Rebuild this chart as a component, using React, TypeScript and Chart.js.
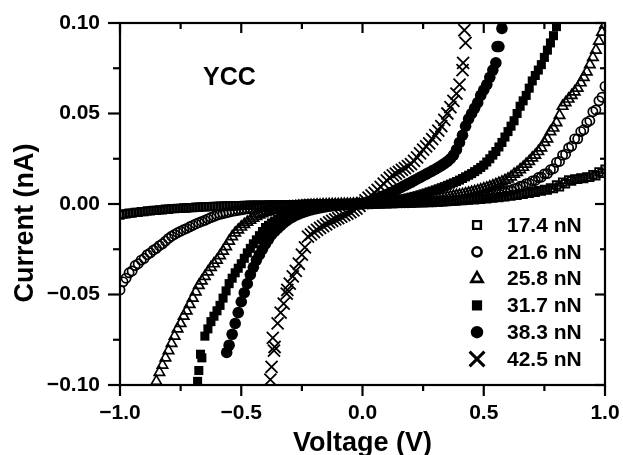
import { useEffect, useRef } from "react";
import { Chart, registerables } from "chart.js";
import { drawPoint } from "chart.js/helpers";

Chart.register(...registerables);

// Forward-sweep voltage grid (V)
const voltage = [
  -1.0, -0.975, -0.95, -0.925, -0.9, -0.875, -0.85, -0.825, -0.8, -0.775,
  -0.75, -0.725, -0.7, -0.675, -0.65, -0.625, -0.6, -0.575, -0.55, -0.525,
  -0.5, -0.475, -0.45, -0.425, -0.4, -0.375, -0.35, -0.325, -0.3, -0.275,
  -0.25, -0.225, -0.2, -0.175, -0.15, -0.125, -0.1, -0.075, -0.05, -0.025,
  0, 0.025, 0.05, 0.075, 0.1, 0.125, 0.15, 0.175, 0.2, 0.225,
  0.25, 0.275, 0.3, 0.325, 0.35, 0.375, 0.4, 0.425, 0.45, 0.475,
  0.5, 0.525, 0.55, 0.575, 0.6, 0.625, 0.65, 0.675, 0.7, 0.725,
  0.75, 0.775, 0.8, 0.825, 0.85, 0.875, 0.9, 0.925, 0.95, 0.975, 1.0,
];
// Return-sweep voltage grid (V)
const voltageBack = [
  -0.9875, -0.9625, -0.9375, -0.9125, -0.8875, -0.8625, -0.8375, -0.8125, -0.7875, -0.7625,
  -0.7375, -0.7125, -0.6875, -0.6625, -0.6375, -0.6125, -0.5875, -0.5625, -0.5375, -0.5125,
  -0.4875, -0.4625, -0.4375, -0.4125, -0.3875, -0.3625, -0.3375, -0.3125, -0.2875, -0.2625,
  -0.2375, -0.2125, -0.1875, -0.1625, -0.1375, -0.1125, -0.0875, -0.0625, -0.0375, -0.0125,
  0.0125, 0.0375, 0.0625, 0.0875, 0.1125, 0.1375, 0.1625, 0.1875, 0.2125, 0.2375,
  0.2625, 0.2875, 0.3125, 0.3375, 0.3625, 0.3875, 0.4125, 0.4375, 0.4625, 0.4875,
  0.5125, 0.5375, 0.5625, 0.5875, 0.6125, 0.6375, 0.6625, 0.6875, 0.7125, 0.7375,
  0.7625, 0.7875, 0.8125, 0.8375, 0.8625, 0.8875, 0.9125, 0.9375, 0.9625, 0.9875,
];

// Current (nA), forward sweep
const i174 = [
  -0.0062, -0.0055, -0.005, -0.0046, -0.0042, -0.0038, -0.0035, -0.0032, -0.0029, -0.0026,
  -0.0024, -0.0022, -0.002, -0.0018, -0.0016, -0.0015, -0.0013, -0.0012, -0.0011, -0.001,
  -0.0009, -0.0008, -0.0007, -0.0007, -0.0006, -0.0005, -0.0005, -0.0004, -0.0004, -0.0003,
  -0.0003, -0.0002, -0.0002, -0.0002, -0.0001, -0.0001, -0.0001, 0, 0, 0,
  0, 0.0001, 0.0002, 0.0003, 0.0004, 0.0005, 0.0006, 0.0007, 0.0008, 0.0009,
  0.001, 0.0011, 0.0013, 0.0014, 0.0016, 0.0018, 0.002, 0.0022, 0.0025, 0.0028,
  0.0031, 0.0034, 0.0037, 0.0041, 0.0046, 0.0051, 0.0056, 0.0062, 0.0068, 0.0074,
  0.0081, 0.0089, 0.0105, 0.0121, 0.0133, 0.0139, 0.0144, 0.015, 0.0162, 0.0177, 0.0192,
];
const i216 = [
  -0.0475, -0.041, -0.037, -0.033, -0.03, -0.027, -0.0245, -0.022, -0.019, -0.0168,
  -0.015, -0.0135, -0.0118, -0.0103, -0.009, -0.0075, -0.0062, -0.0053, -0.0045, -0.0038,
  -0.0032, -0.0027, -0.0023, -0.0019, -0.0016, -0.0013, -0.0011, -0.0009, -0.0007, -0.0006,
  -0.0005, -0.0004, -0.0003, -0.0002, -0.0002, -0.0001, -0.0001, 0, 0, 0,
  0, 0.0001, 0.0002, 0.0003, 0.0004, 0.0005, 0.0006, 0.0007, 0.0008, 0.0009,
  0.001, 0.0011, 0.0012, 0.0014, 0.0016, 0.0019, 0.0022, 0.0026, 0.003, 0.0035,
  0.004, 0.0047, 0.0055, 0.0064, 0.0074, 0.0085, 0.0098, 0.0112, 0.0128, 0.0146,
  0.0166, 0.0189, 0.023, 0.027, 0.031, 0.036, 0.04, 0.045, 0.051, 0.057, 0.065,
];
const i258 = [
  null, null, null, null, null, null, -0.098, -0.089, -0.081, -0.073,
  -0.066, -0.059, -0.052, -0.045, -0.04, -0.035, -0.031, -0.026, -0.0205, -0.016,
  -0.0127, -0.01, -0.0078, -0.006, -0.0047, -0.0037, -0.0029, -0.0023, -0.0018, -0.0014,
  -0.0011, -0.0008, -0.0006, -0.0005, -0.0004, -0.0003, -0.0002, -0.0001, -0.0001, 0,
  0, 0.0001, 0.0002, 0.0003, 0.0005, 0.0007, 0.0009, 0.0011, 0.0014, 0.0017,
  0.002, 0.0024, 0.0028, 0.0033, 0.0038, 0.0044, 0.005, 0.0057, 0.0065, 0.0074,
  0.0084, 0.0095, 0.0108, 0.0122, 0.0138, 0.0165, 0.019, 0.022, 0.0255, 0.029,
  0.034, 0.04, 0.045, 0.054, 0.058, 0.062, 0.067, 0.073, 0.081, 0.09, 0.099,
];
const i317 = [
  null, null, null, null, null, null, null, null, null, null,
  null, null, null, -0.092, -0.073, -0.065, -0.059, -0.052, -0.044, -0.038,
  -0.033, -0.027, -0.022, -0.0175, -0.013, -0.0105, -0.0085, -0.0068, -0.0054, -0.0043,
  -0.0034, -0.0027, -0.0021, -0.0016, -0.0012, -0.0009, -0.0006, -0.0004, -0.0002, -0.0001,
  0, 0.0002, 0.0005, 0.0009, 0.0013, 0.0018, 0.0024, 0.003, 0.0038, 0.0046,
  0.0056, 0.0067, 0.0078, 0.009, 0.0103, 0.0117, 0.0132, 0.015, 0.0168, 0.019,
  0.0215, 0.025, 0.029, 0.034, 0.04, 0.046, 0.054, 0.06, 0.068, 0.074,
  0.081, 0.089, 0.098, null, null, null, null, null, null, null, null,
];
const i383 = [
  null, null, null, null, null, null, null, null, null, null,
  null, null, null, null, null, null, null, null, -0.078, -0.066,
  -0.054, -0.044, -0.035, -0.028, -0.022, -0.017, -0.0135, -0.0105, -0.008, -0.0062,
  -0.0048, -0.0037, -0.0028, -0.0021, -0.0015, -0.001, -0.0007, -0.0004, -0.0002, -0.0001,
  0, 0.0012, 0.0025, 0.0038, 0.0052, 0.0068, 0.0086, 0.0103, 0.012, 0.0138,
  0.0156, 0.0174, 0.0192, 0.0212, 0.0235, 0.027, 0.034, 0.043, 0.05, 0.056,
  0.063, 0.07, 0.078, 0.097, null, null, null, null, null, null,
  null, null, null, null, null, null, null, null, null, null, null,
];
const i425 = [
  null, null, null, null, null, null, null, null, null, null,
  null, null, null, null, null, null, null, null, null, null,
  null, null, null, null, null, -0.09, -0.066, -0.055, -0.044, -0.037,
  -0.028, -0.018, -0.0155, -0.0132, -0.0112, -0.0093, -0.0078, -0.0062, -0.0045, -0.0025,
  0.0005, 0.0035, 0.0062, 0.0095, 0.013, 0.0158, 0.0178, 0.0198, 0.022, 0.0258,
  0.03, 0.0335, 0.038, 0.043, 0.05, 0.057, 0.066, 0.089, null, null,
  null, null, null, null, null, null, null, null, null, null,
  null, null, null, null, null, null, null, null, null, null, null,
];

// Current (nA), return sweep
const j174 = [
  -0.0056, -0.005, -0.0046, -0.0042, -0.0038, -0.0035, -0.0032, -0.0029, -0.0026, -0.0024,
  -0.0022, -0.002, -0.0018, -0.0016, -0.0015, -0.0013, -0.0012, -0.0011, -0.001, -0.0009,
  -0.0008, -0.0007, -0.0007, -0.0006, -0.0005, -0.0005, -0.0004, -0.0004, -0.0003, -0.0003,
  -0.0002, -0.0002, -0.0002, -0.0001, -0.0001, -0.0001, 0, 0, 0, 0,
  0.0001, 0.0001, 0.0002, 0.0003, 0.0004, 0.0005, 0.0006, 0.0007, 0.0008, 0.0009,
  0.001, 0.0011, 0.0012, 0.0014, 0.0015, 0.0017, 0.0019, 0.0021, 0.0023, 0.0026,
  0.0029, 0.0032, 0.0035, 0.0039, 0.0043, 0.0048, 0.0053, 0.0059, 0.0065, 0.0071,
  0.0077, 0.0085, 0.0095, 0.0112, 0.0127, 0.0136, 0.0141, 0.0147, 0.0156, 0.0169,
];
const j216 = [
  -0.043, -0.038, -0.034, -0.031, -0.028, -0.0255, -0.023, -0.0205, -0.0178, -0.0158,
  -0.0142, -0.0126, -0.011, -0.0096, -0.0082, -0.0068, -0.0057, -0.0049, -0.0041, -0.0035,
  -0.0029, -0.0025, -0.0021, -0.0017, -0.0014, -0.0012, -0.001, -0.0008, -0.0006, -0.0005,
  -0.0004, -0.0003, -0.0002, -0.0002, -0.0001, -0.0001, -0.0001, 0, 0, 0,
  0.0001, 0.0001, 0.0002, 0.0003, 0.0004, 0.0005, 0.0006, 0.0007, 0.0008, 0.0009,
  0.001, 0.0011, 0.0013, 0.0015, 0.0017, 0.002, 0.0023, 0.0027, 0.0031, 0.0036,
  0.0041, 0.0048, 0.0056, 0.0065, 0.0075, 0.0087, 0.01, 0.0114, 0.013, 0.0148,
  0.0168, 0.0195, 0.0235, 0.0275, 0.032, 0.036, 0.041, 0.046, 0.052, 0.059,
];
const j258 = [
  null, null, null, null, null, null, -0.093, -0.085, -0.077, -0.069,
  -0.062, -0.0555, -0.0485, -0.0425, -0.0375, -0.033, -0.0285, -0.0235, -0.018, -0.0143,
  -0.0113, -0.0089, -0.0069, -0.0053, -0.0042, -0.0033, -0.0026, -0.002, -0.0016, -0.0012,
  -0.0009, -0.0007, -0.0005, -0.0004, -0.0003, -0.0002, -0.0001, -0.0001, 0, 0,
  0.0001, 0.0001, 0.0002, 0.0004, 0.0006, 0.0008, 0.001, 0.0012, 0.0015, 0.0018,
  0.0022, 0.0026, 0.003, 0.0035, 0.0041, 0.0047, 0.0053, 0.0061, 0.0069, 0.0079,
  0.0089, 0.0101, 0.0115, 0.013, 0.015, 0.0175, 0.0203, 0.0235, 0.027, 0.031,
  0.036, 0.042, 0.049, 0.056, 0.06, 0.064, 0.07, 0.077, 0.085, 0.095,
];
const j317 = [
  null, null, null, null, null, null, null, null, null, null,
  null, null, null, -0.085, -0.069, -0.062, -0.056, -0.048, -0.041, -0.0355,
  -0.03, -0.0245, -0.0198, -0.0152, -0.0118, -0.0095, -0.0076, -0.006, -0.0048, -0.0038,
  -0.003, -0.0024, -0.0018, -0.0014, -0.001, -0.0007, -0.0005, -0.0003, -0.0001, 0,
  0.0001, 0.0003, 0.0007, 0.0011, 0.0015, 0.0021, 0.0027, 0.0034, 0.0042, 0.0051,
  0.0061, 0.0072, 0.0084, 0.0096, 0.011, 0.0124, 0.0141, 0.0159, 0.0179, 0.0202,
  0.0232, 0.027, 0.0315, 0.037, 0.043, 0.05, 0.057, 0.064, 0.071, 0.077,
  0.085, 0.093, null, null, null, null, null, null, null, null,
];
const j383 = [
  null, null, null, null, null, null, null, null, null, null,
  null, null, null, null, null, null, null, null, -0.072, -0.06,
  -0.049, -0.039, -0.031, -0.025, -0.0195, -0.0152, -0.012, -0.0092, -0.0071, -0.0055,
  -0.0042, -0.0032, -0.0024, -0.0018, -0.0012, -0.0008, -0.0005, -0.0003, -0.0001, 0,
  0.0006, 0.0018, 0.0031, 0.0045, 0.006, 0.0077, 0.0094, 0.0111, 0.0129, 0.0147,
  0.0165, 0.0183, 0.0202, 0.0223, 0.025, 0.03, 0.038, 0.047, 0.053, 0.06,
  0.066, 0.074, 0.087, null, null, null, null, null, null, null,
  null, null, null, null, null, null, null, null, null, null,
];
const j425 = [
  null, null, null, null, null, null, null, null, null, null,
  null, null, null, null, null, null, null, null, null, null,
  null, null, null, null, null, -0.079, -0.06, -0.0495, -0.04, -0.033,
  -0.024, -0.0168, -0.0143, -0.0122, -0.0102, -0.0085, -0.007, -0.0053, -0.0035, -0.001,
  0.002, 0.0048, 0.0078, 0.0112, 0.0145, 0.0168, 0.0188, 0.0209, 0.0238, 0.028,
  0.0318, 0.0358, 0.0405, 0.0465, 0.0535, 0.061, 0.074, null, null, null,
  null, null, null, null, null, null, null, null, null, null,
  null, null, null, null, null, null, null, null, null, null,
];

// Extra scattered points
const extraV317 = [-0.68, -0.668];
const extraI317 = [-0.098, -0.083];
const extraV383 = [-0.56, 0.555];
const extraI383 = [-0.082, 0.087];
const extraV425 = [-0.38, -0.365, -0.37, -0.31, 0.415, 0.42];
const extraI425 = [-0.097, -0.081, -0.074, -0.0475, 0.078, 0.096];

const seriesLabels = ["17.4 nN", "21.6 nN", "25.8 nN", "31.7 nN", "38.3 nN", "42.5 nN"];

const xMajorTicks = [-1, -0.5, 0, 0.5, 1];
const xMinorTicks = [-0.75, -0.25, 0.25, 0.75];
const yMajorTicks = [-0.1, -0.05, 0, 0.05, 0.1];
const yMinorTicks = [-0.075, -0.025, 0.025, 0.075];
const xTickLabels = ["\u22121.0", "\u22120.5", "0.0", "0.5", "1.0"];
const yTickLabels = ["\u22120.10", "\u22120.05", "0.00", "0.05", "0.10"];

const FONT = "'Liberation Sans', Arial, Helvetica, sans-serif";

function pts(vs: number[], is: (number | null)[], out: { x: number; y: number }[] = []) {
  vs.forEach((v, k) => {
    const c = is[k];
    if (c !== null && c !== undefined) out.push({ x: v, y: c });
  });
  return out;
}
function series(a: (number | null)[], b: (number | null)[], ev: number[] = [], ei: number[] = []) {
  const out = pts(voltage, a);
  pts(voltageBack, b, out);
  pts(ev, ei, out);
  return out;
}

const styles = [
  { pointStyle: "rect", radius: 5.3, fill: "rgba(0,0,0,0)", bw: 1.8, legendRadius: 5.5, legendBw: 2.4 },
  { pointStyle: "circle", radius: 4.6, fill: "rgba(0,0,0,0)", bw: 1.7, legendRadius: 4.6, legendBw: 2.6 },
  { pointStyle: "triangle", radius: 6, fill: "rgba(0,0,0,0)", bw: 1.7, legendRadius: 6.5, legendBw: 2.6 },
  { pointStyle: "rect", radius: 6.4, fill: "#000", bw: 0, legendRadius: 7.2, legendBw: 0 },
  { pointStyle: "circle", radius: 5.8, fill: "#000", bw: 0, legendRadius: 6.2, legendBw: 0 },
  { pointStyle: "crossRot", radius: 8.5, fill: "rgba(0,0,0,0)", bw: 1.8, legendRadius: 10.5, legendBw: 3 },
];

const framePlugin = {
  id: "framePlugin",
  afterDraw(chart: any) {
    const ctx = chart.ctx as CanvasRenderingContext2D;
    const ca = chart.chartArea;
    const xs = chart.scales.x;
    const ys = chart.scales.y;
    ctx.save();
    ctx.strokeStyle = "#000";
    ctx.fillStyle = "#000";
    ctx.lineWidth = 2.2;
    ctx.lineCap = "butt";
    ctx.strokeRect(ca.left, ca.top, ca.right - ca.left, ca.bottom - ca.top);
    const line = (x1: number, y1: number, x2: number, y2: number) => {
      ctx.beginPath();
      ctx.moveTo(x1, y1);
      ctx.lineTo(x2, y2);
      ctx.stroke();
    };
    xMajorTicks.forEach((v) => {
      const p = xs.getPixelForValue(v);
      line(p, ca.bottom, p, ca.bottom + 11);
      line(p, ca.top, p, ca.top + 10);
    });
    xMinorTicks.forEach((v) => {
      const p = xs.getPixelForValue(v);
      line(p, ca.bottom, p, ca.bottom + 6);
      line(p, ca.top, p, ca.top + 6);
    });
    yMajorTicks.forEach((v) => {
      const p = ys.getPixelForValue(v);
      line(ca.left - 12, p, ca.left, p);
      line(ca.right - 10, p, ca.right, p);
    });
    yMinorTicks.forEach((v) => {
      const p = ys.getPixelForValue(v);
      line(ca.left - 7, p, ca.left, p);
      line(ca.right - 5, p, ca.right, p);
    });

    // axis titles
    ctx.font = `bold 27px ${FONT}`;
    ctx.textAlign = "center";
    ctx.textBaseline = "alphabetic";
    ctx.fillText("Voltage (V)", (ca.left + ca.right) / 2, 451);
    ctx.save();
    ctx.translate(33, 223);
    ctx.rotate(-Math.PI / 2);
    ctx.fillText("Current (nA)", 0, 0);
    ctx.restore();

    // annotation
    ctx.font = `bold 25px ${FONT}`;
    ctx.textAlign = "left";
    ctx.fillText("YCC", 203, 85);

    // legend
    const lx = 477;
    const ty = 225;
    const dy = 26.8;
    ctx.font = `bold 21px ${FONT}`;
    ctx.textBaseline = "middle";
    seriesLabels.forEach((lab, k) => {
      const st = styles[k];
      const y = ty + dy * k;
      ctx.save();
      ctx.fillStyle = st.fill;
      ctx.strokeStyle = "#000";
      ctx.lineWidth = st.legendBw;
      drawPoint(ctx, { pointStyle: st.pointStyle as any, radius: st.legendRadius, borderWidth: st.legendBw, rotation: 0 }, lx, y);
      ctx.restore();
      ctx.fillStyle = "#000";
      ctx.textAlign = "left";
      ctx.fillText(lab, 507, y + 1);
    });
    ctx.restore();
  },
};

export default function App() {
  const ref = useRef<HTMLCanvasElement | null>(null);
  useEffect(() => {
    if (!ref.current) return;
    const data = [
      series(i174, j174),
      series(i216, j216),
      series(i258, j258),
      series(i317, j317, extraV317, extraI317),
      series(i383, j383, extraV383, extraI383),
      series(i425, j425, extraV425, extraI425),
    ];
    const chart = new Chart(ref.current, {
      type: "scatter",
      data: {
        datasets: data.map((d, k) => ({
          label: seriesLabels[k],
          data: d,
          pointStyle: styles[k].pointStyle as any,
          pointRadius: styles[k].radius,
          pointHoverRadius: styles[k].radius,
          pointBackgroundColor: styles[k].fill,
          pointBorderColor: "#000",
          pointBorderWidth: styles[k].bw,
          showLine: false,
        })),
      },
      options: {
        animation: false,
        responsive: false,
        devicePixelRatio: 1,
        layout: { padding: { top: 23, right: 18, left: 0, bottom: 0 } },
        plugins: { legend: { display: false }, tooltip: { enabled: false } },
        events: [],
        scales: {
          x: {
            type: "linear",
            min: -1,
            max: 1,
            grid: { display: false, drawTicks: false },
            border: { display: false },
            afterBuildTicks: (s: any) => {
              s.ticks = xMajorTicks.map((v) => ({ value: v }));
            },
            afterFit: (s: any) => {
              s.height = 70;
              s.paddingLeft = 0;
              s.paddingRight = 0;
            },
            ticks: {
              padding: 16,
              color: "#000",
              maxRotation: 0,
              autoSkip: false,
              font: { family: FONT, size: 21, weight: "bold" },
              callback: (_v: any, i: number) => xTickLabels[i],
            },
          },
          y: {
            type: "linear",
            min: -0.1,
            max: 0.1,
            grid: { display: false, drawTicks: false },
            border: { display: false },
            afterBuildTicks: (s: any) => {
              s.ticks = yMajorTicks.map((v) => ({ value: v }));
            },
            afterFit: (s: any) => {
              s.width = 120;
              s.paddingTop = 0;
              s.paddingBottom = 0;
            },
            ticks: {
              padding: 20,
              color: "#000",
              autoSkip: false,
              font: { family: FONT, size: 21, weight: "bold" },
              callback: (_v: any, i: number) => yTickLabels[i],
            },
          },
        },
      },
      plugins: [framePlugin],
    });
    return () => chart.destroy();
  }, []);
  return (
    <div style={{ position: "fixed", left: 0, top: 0, width: 623, height: 455, background: "#fff" }}>
      <canvas ref={ref} width={623} height={455} style={{ width: 623, height: 455, display: "block" }} />
    </div>
  );
}
